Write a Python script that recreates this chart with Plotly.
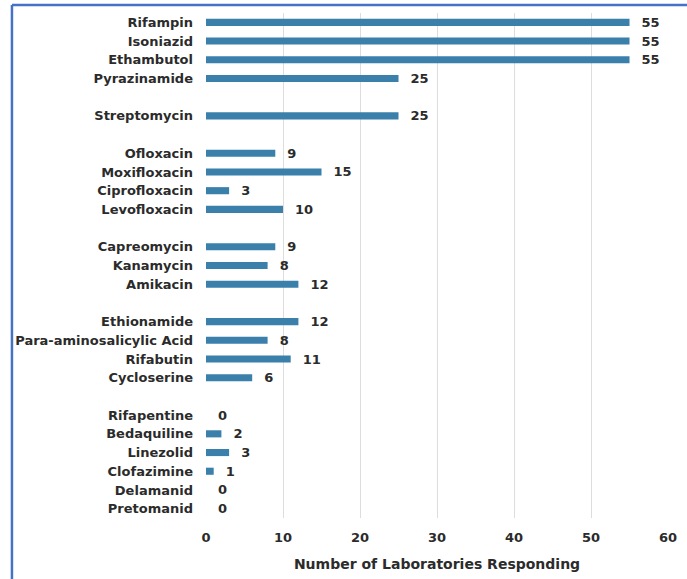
import plotly.graph_objects as go

# Drug names in display order (top to bottom), grouped; groups separated by a blank row
group1 = ["Rifampin", "Isoniazid", "Ethambutol", "Pyrazinamide"]
group1_vals = [55, 55, 55, 25]
group2 = ["Streptomycin"]
group2_vals = [25]
group3 = ["Ofloxacin", "Moxifloxacin", "Ciprofloxacin", "Levofloxacin"]
group3_vals = [9, 15, 3, 10]
group4 = ["Capreomycin", "Kanamycin", "Amikacin"]
group4_vals = [9, 8, 12]
group5 = ["Ethionamide", "Para-aminosalicylic Acid", "Rifabutin", "Cycloserine"]
group5_vals = [12, 8, 11, 6]
group6 = ["Rifapentine", "Bedaquiline", "Linezolid", "Clofazimine", "Delamanid", "Pretomanid"]
group6_vals = [0, 2, 3, 1, 0, 0]

x_ticks = [0, 10, 20, 30, 40, 50, 60]
x_title = "Number of Laboratories Responding"

groups = [(group1, group1_vals), (group2, group2_vals), (group3, group3_vals),
          (group4, group4_vals), (group5, group5_vals), (group6, group6_vals)]

categories = []
values = []
for i, (names, vals) in enumerate(groups):
    if i > 0:
        categories.append(" " * i)  # unique blank spacer row
        values.append(None)
    categories.extend(names)
    values.extend(vals)

texts = [None if v is None else "\u00a0\u00a0" + str(v) for v in values]

FONT = "DejaVu Sans"
TXT = "#2b2b2b"

fig = go.Figure(go.Bar(
    x=values,
    y=categories,
    orientation="h",
    marker=dict(color="#3b7fab", line=dict(width=0)),
    width=0.38,
    text=texts,
    textposition="outside",
    constraintext="none",
    cliponaxis=False,
    textfont=dict(family=FONT, size=13, color=TXT, weight="bold"),
    hoverinfo="x+y",
))

fig.update_layout(
    width=687, height=579,
    margin=dict(l=206, r=19, t=13, b=61),
    paper_bgcolor="white",
    plot_bgcolor="white",
    showlegend=False,
    font=dict(family=FONT, size=13, color=TXT, weight="bold"),
    xaxis=dict(
        range=[0, 60],
        tickvals=x_ticks,
        automargin=False,
        showgrid=True, gridcolor="#dddddd", gridwidth=1,
        zeroline=False, showline=False,
        ticks="outside", ticklen=7, tickcolor="rgba(0,0,0,0)",
        tickfont=dict(family=FONT, size=13, color=TXT, weight="bold"),
        title=dict(text=x_title, font=dict(family=FONT, size=14, color=TXT, weight="bold")),
    ),
    yaxis=dict(
        type="category",
        categoryorder="array",
        categoryarray=categories,
        autorange="reversed",
        automargin=False,
        showgrid=False, zeroline=False, showline=False,
        ticks="",
        ticklabelstandoff=12,
        tickfont=dict(family=FONT, size=13, color=TXT, weight="bold"),
    ),
    shapes=[
        dict(type="line", xref="paper", yref="paper", x0=-0.42, x1=1.2, y0=1.016, y1=1.016,
             line=dict(color="#4472c4", width=2.5)),
        dict(type="line", xref="paper", yref="paper", x0=-0.42, x1=-0.42, y0=1.016, y1=-0.2,
             line=dict(color="#4472c4", width=2.5)),
    ],
)

fig.write_html("out.html")
